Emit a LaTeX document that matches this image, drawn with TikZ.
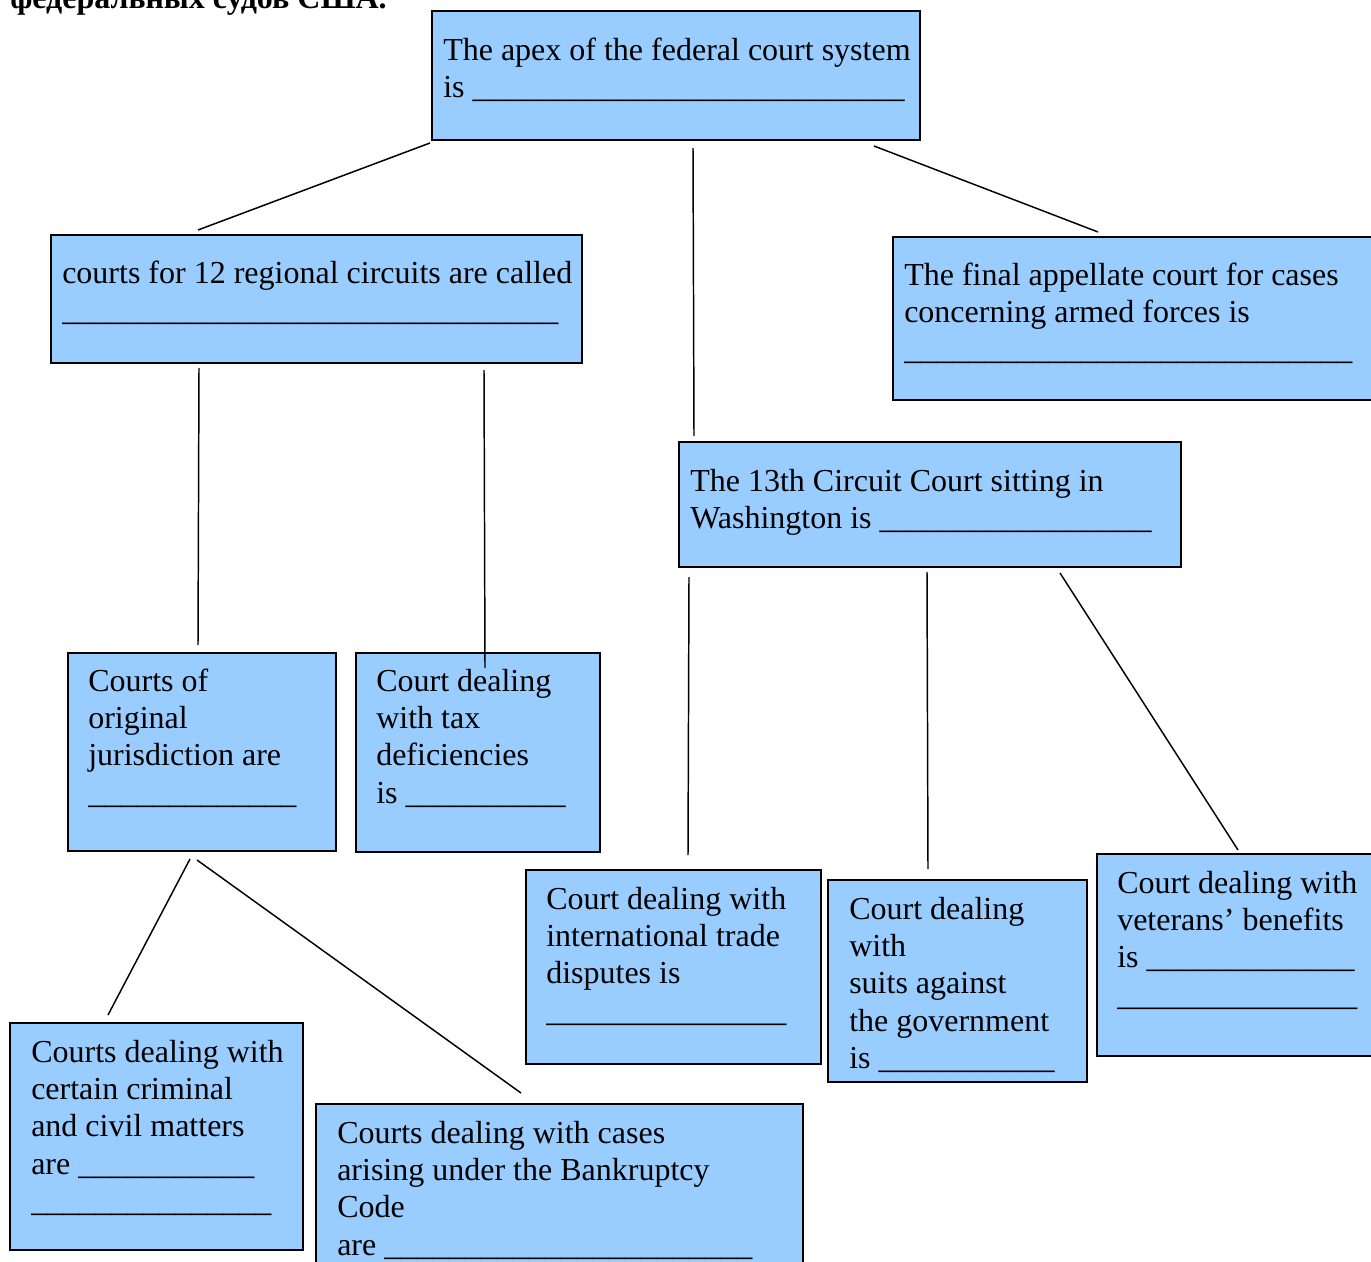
\documentclass[tikz,border=0pt]{standalone}
\usepackage{fontspec}
\setmainfont{Liberation Serif}
\usetikzlibrary{fit}
\definecolor{boxblue}{RGB}{153,204,255}
\newcount\uscnt
\newcommand{\us}[1]{\uscnt=#1\relax\loop\ifnum\uscnt>0 \textunderscore\advance\uscnt-1\relax\repeat}
\newcommand{\st}{\rule{0pt}{18pt}}
\tikzset{
  box/.style={draw=black, line width=1.5pt, fill=boxblue, inner sep=0pt},
  txt/.style={anchor=north west, inner sep=0pt, align=left, font=\fontsize{24}{28}\selectfont},
  conn/.style={line width=1.1pt}
}
\begin{document}
\begin{tikzpicture}[x=0.75pt,y=-0.75pt]
\useasboundingbox (0,0) rectangle (1371,1262);
\node[anchor=base west, inner sep=0pt, font=\fontsize{24}{28}\selectfont\bfseries] (title) at (10,9) {федеральных судов США.};
% boxes
\node[box, fit={(432,11) (920,140)}] (b1) {};
\node[box, fit={(51,235) (582,363)}] (b2) {};
\node[box, fit={(893,237) (1375,400)}] (b3) {};
\node[box, fit={(679,442) (1181,567)}] (b4) {};
\node[box, fit={(68,653) (336,851)}] (b5) {};
\node[box, fit={(356,653) (600,852)}] (b6) {};
\node[box, fit={(526,870) (821,1064)}] (b7) {};
\node[box, fit={(828,880) (1087,1082)}] (b8) {};
\node[box, fit={(1097,854) (1375,1056)}] (b9) {};
\node[box, fit={(10,1023) (303,1250)}] (b10) {};
\node[box, fit={(316,1104) (803,1270)}] (b11) {};
% texts
\node[txt] (t1) at (443,36) {\st The apex of the federal court system\\ is \us{27}};
\node[txt] (t2) at (62,259) {\st courts for 12 regional circuits are called\\ \us{31}};
\node[txt] (t3) at (904,261) {\st The final appellate court for cases\\ concerning armed forces is\\ \us{28}};
\node[txt] (t4) at (690,467) {\st The 13th Circuit Court sitting in\\ Washington is \us{17}};
\node[txt] (t5) at (88,667) {\st Courts of\\ original\\ jurisdiction are\\ \us{13}};
\node[txt] (t6) at (376,667) {\st Court dealing\\ with tax\\ deficiencies\\ is \us{10}};
\node[txt] (t7) at (546,885) {\st Court dealing with\\ international trade\\ disputes is\\ \us{15}};
\node[txt] (t8) at (849,895) {\st Court dealing\\ with\\ suits against\\ the government\\ is \us{11}};
\node[txt] (t9) at (1117,869) {\st Court dealing with\\ veterans’ benefits\\ is \us{13}\\ \us{15}};
\node[txt] (t10) at (31,1038) {\st Courts dealing with\\ certain criminal\\ and civil matters\\ are \us{11}\\ \us{15}};
\node[txt] (t11) at (337,1119) {\st Courts dealing with cases\\ arising under the Bankruptcy\\ Code\\ are \us{23}};
% connector ends
\coordinate (a1) at (430,143); \coordinate (a2) at (198,230);
\coordinate (c1) at (693,148); \coordinate (c2) at (694,436);
\coordinate (d1) at (874,146); \coordinate (d2) at (1098,232);
\coordinate (e1) at (199,368); \coordinate (e2) at (198,645);
\coordinate (f1) at (484,370); \coordinate (f2) at (485,668);
\coordinate (g1) at (689,577); \coordinate (g2) at (688,855);
\coordinate (h1) at (927,572); \coordinate (h2) at (928,869);
\coordinate (i1) at (1060,573); \coordinate (i2) at (1238,850);
\coordinate (j1) at (190,859); \coordinate (j2) at (108,1015);
\coordinate (k1) at (197,860); \coordinate (k2) at (521,1093);
\draw[conn] (a1) -- (a2);
\draw[conn] (c1) -- (c2);
\draw[conn] (d1) -- (d2);
\draw[conn] (e1) -- (e2);
\draw[conn] (f1) -- (f2);
\draw[conn] (g1) -- (g2);
\draw[conn] (h1) -- (h2);
\draw[conn] (i1) -- (i2);
\draw[conn] (j1) -- (j2);
\draw[conn] (k1) -- (k2);
\end{tikzpicture}
\end{document}
